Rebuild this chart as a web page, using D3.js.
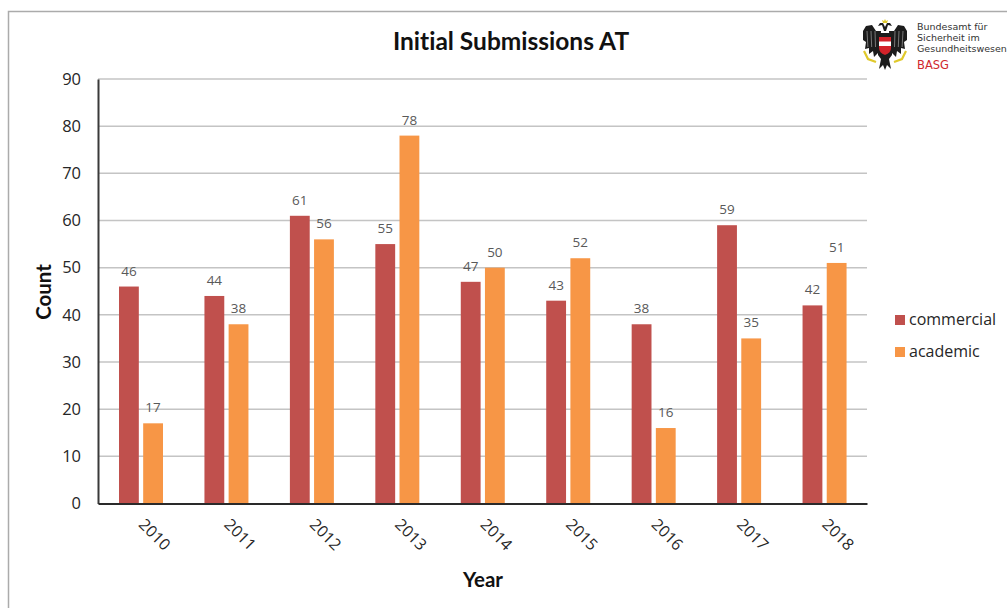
<!DOCTYPE html>
<html>
<head>
<meta charset="utf-8">
<script src="https://cdn.jsdelivr.net/npm/d3@7"></script>
<style>
  html, body { margin: 0; padding: 0; background: #fff; overflow: hidden; }
  svg { display: block; font-family: "Open Sans", sans-serif; font-variant-ligatures: none; }
</style>
</head>
<body>
<svg id="chart" width="1007" height="608"></svg>
<script>
const years = [2010, 2011, 2012, 2013, 2014, 2015, 2016, 2017, 2018];
const commercial = [46, 44, 61, 55, 47, 43, 38, 59, 42];
const academic = [17, 38, 56, 78, 50, 52, 16, 35, 51];
const yTicks = [0, 10, 20, 30, 40, 50, 60, 70, 80, 90];
const seriesNames = ["commercial", "academic"];
const seriesColors = ["#c0504d", "#f79646"];
const issuerLines = ["Bundesamt für", "Sicherheit im", "Gesundheitswesen"];

const svg = d3.select("#chart");
const plot = { left: 98, right: 867, top: 79, bottom: 503.5 };

// Outer frame, open on the right and bottom
svg.append("path")
  .attr("d", "M8.5,608V11.5H1007")
  .attr("fill", "none").attr("stroke", "#ababab").attr("stroke-width", 1.5);

const x = d3.scaleBand().domain(years).range([plot.left, plot.right]);
const y = d3.scaleLinear().domain([0, 90]).range([plot.bottom, plot.top]);
const groupOffset = d3.scaleBand().domain(seriesNames)
  .range([21, 65]).paddingInner(0.18);

// Horizontal grid lines behind the bars
svg.append("g").selectAll("line")
  .data(yTicks.filter(d => d > 0))
  .join("line")
  .attr("x1", plot.left).attr("x2", plot.right)
  .attr("y1", d => y(d)).attr("y2", d => y(d))
  .attr("stroke", "#c4c4c4").attr("stroke-width", 1.5);

// Bars and their value labels
[commercial, academic].forEach((values, s) => {
  const g = svg.append("g");
  const name = seriesNames[s];
  g.selectAll("rect")
    .data(values)
    .join("rect")
    .attr("x", (d, i) => x(years[i]) + groupOffset(name))
    .attr("y", d => y(d))
    .attr("width", groupOffset.bandwidth())
    .attr("height", d => y(0) - y(d))
    .attr("fill", seriesColors[s]);
  g.selectAll("text")
    .data(values)
    .join("text")
    .attr("x", (d, i) => x(years[i]) + groupOffset(name) + groupOffset.bandwidth() / 2)
    .attr("y", d => y(d) - 11)
    .attr("text-anchor", "middle")
    .attr("font-size", 13.5)
    .attr("fill", "#595959")
    .text(d => d);
});

// Value axis
const yAxis = svg.append("g")
  .attr("transform", `translate(${plot.left},0)`)
  .call(d3.axisLeft(y).tickValues(yTicks).tickSize(0).tickPadding(17));
yAxis.select(".domain").attr("stroke", "#3a3a3a").attr("stroke-width", 2);
yAxis.selectAll("text")
  .attr("font-family", "'Open Sans', sans-serif")
  .attr("font-size", 16.5).attr("fill", "#262626");

// Category axis with slanted year labels
const xAxis = svg.append("g")
  .attr("transform", `translate(0,${plot.bottom})`)
  .call(d3.axisBottom(x).tickSize(0).tickPadding(0));
xAxis.select(".domain").attr("stroke", "#2a2a2a").attr("stroke-width", 2);
xAxis.selectAll("text")
  .attr("font-family", "'Open Sans', sans-serif")
  .attr("font-size", 16).attr("fill", "#262626")
  .attr("text-anchor", "middle")
  .attr("dy", 0)
  .attr("transform", "translate(10,35) rotate(45)");

// Titles
svg.append("text").attr("x", 511).attr("y", 50)
  .attr("text-anchor", "middle").attr("font-family", "Lato, sans-serif")
  .attr("font-size", 24.5).attr("font-weight", 700).attr("fill", "#111")
  .text("Initial Submissions AT");
svg.append("text").attr("x", 483).attr("y", 586.5)
  .attr("text-anchor", "middle").attr("font-family", "Lato, sans-serif")
  .attr("font-size", 20.5).attr("font-weight", 700).attr("fill", "#111")
  .text("Year");
svg.append("text")
  .attr("transform", "translate(51,292) rotate(-90)")
  .attr("text-anchor", "middle").attr("font-family", "Lato, sans-serif")
  .attr("font-size", 20.5).attr("font-weight", 700).attr("fill", "#111")
  .text("Count");

// Legend
const legend = svg.append("g").selectAll("g")
  .data(seriesNames)
  .join("g")
  .attr("transform", (d, i) => `translate(895,${320 + i * 32})`);
legend.append("rect")
  .attr("x", 0).attr("y", -5).attr("width", 10).attr("height", 10)
  .attr("fill", (d, i) => seriesColors[i]);
legend.append("text")
  .attr("x", 14).attr("y", 5)
  .attr("font-size", 16).attr("fill", "#262626")
  .text(d => d);

// Issuer emblem: black eagle with a red and white shield
const emblem = svg.append("g").attr("transform", "translate(885,45)");
const wing = "M-4,-14 L-9,-14 L-13,-20 L-19,-19 L-22,-14 L-22,-5 L-19,-3 L-20,4 L-16,3 L-16,9 L-12,6 L-11,12 L-7,8 L-5,4 Z";
emblem.append("path").attr("d", wing).attr("fill", "#1c1c1c");
emblem.append("path").attr("d", wing).attr("fill", "#1c1c1c")
  .attr("transform", "scale(-1,1)");
// Heads and crown
emblem.append("path")
  .attr("d", "M-1,-14 L-3,-20 L-7,-19 L-5,-22 L-2,-22 L0,-18 L2,-22 L5,-22 L7,-19 L3,-20 L1,-14 Z")
  .attr("fill", "#1c1c1c");
emblem.append("path")
  .attr("d", "M-3,-25 L-2,-22 L2,-22 L3,-25 L1,-24 L0,-26 L-1,-24 Z")
  .attr("fill", "#e0c92c");
// Body and tail
emblem.append("path")
  .attr("d", "M-7,-12 H7 V10 L4,14 L6,24 L2,20 L0,25 L-2,20 L-6,24 L-4,14 L-7,10 Z")
  .attr("fill", "#1c1c1c");
// Feather highlights on the wings
emblem.selectAll("path.feather")
  .data([-18, -14, -10, 10, 14, 18])
  .join("path")
  .attr("class", "feather")
  .attr("d", d => `M${d},-14 L${d * 0.95},2`)
  .attr("stroke", "#8f8f8f").attr("stroke-width", 0.8).attr("fill", "none");
// Talons and chain
emblem.append("path")
  .attr("d", "M-21,6 L-17,14 L-9,17 M21,6 L17,14 L9,17")
  .attr("fill", "none").attr("stroke", "#e0c92c").attr("stroke-width", 2.2);
// Shield
emblem.append("path")
  .attr("d", "M-6,-8 H6 V3 Q6,8 0,10 Q-6,8 -6,3 Z")
  .attr("fill", "#d3232a");
emblem.append("rect")
  .attr("x", -6).attr("y", -3.5).attr("width", 12).attr("height", 4.5)
  .attr("fill", "#fff");

// Issuer name beside the emblem
svg.append("g").selectAll("text")
  .data(issuerLines)
  .join("text")
  .attr("x", 917).attr("y", (d, i) => 30 + i * 11)
  .attr("font-family", "'DejaVu Sans', sans-serif")
  .attr("font-size", 9.5).attr("fill", "#333")
  .text(d => d);
svg.append("text").attr("x", 917).attr("y", 69)
  .attr("font-family", "'DejaVu Sans', sans-serif")
  .attr("font-size", 11.5).attr("fill", "#d0282e").text("BASG");
</script>
</body>
</html>
